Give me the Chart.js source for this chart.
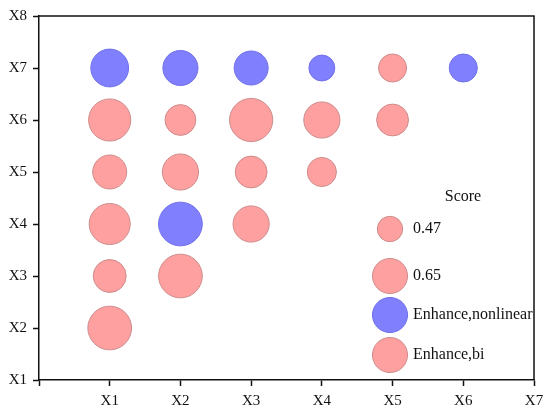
<!DOCTYPE html>
<html>
<head>
<meta charset="utf-8">
<script src="https://cdn.jsdelivr.net/npm/chart.js@4.4.0/dist/chart.umd.min.js"></script>
<style>
  html, body { margin: 0; padding: 0; background: #fff; }
  #wrap { width: 550px; height: 420px; }
</style>
</head>
<body>
<div id="wrap"><canvas id="bubbleChart"></canvas></div>
<script>
// tick labels
const xTickLabels = ["", "X1", "X2", "X3", "X4", "X5", "X6", "X7"];
const yTickLabels = ["", "X1", "X2", "X3", "X4", "X5", "X6", "X7", "X8"];

// Enhance,bi  (x index, y index, score)
const biX     = [1, 2, 3, 4, 5,   1, 2, 3, 4,   1, 3,   1, 2,   1,   5];
const biY     = [6, 6, 6, 6, 6,   5, 5, 5, 5,   4, 4,   3, 3,   2,   7];
const biScore = [0.78, 0.57, 0.80, 0.67, 0.59,  0.63, 0.67, 0.59, 0.54,  0.76, 0.67,  0.61, 0.81,  0.81,  0.52];

// Enhance,nonlinear
const nlX     = [1, 2, 3, 4, 6, 2];
const nlY     = [7, 7, 7, 7, 7, 4];
const nlScore = [0.70, 0.65, 0.63, 0.48, 0.52, 0.81];

// score legend entries
const legendScores = [0.47, 0.65];

const pink = "rgba(255, 160, 160, 1)";
const pinkEdge = "rgba(205, 140, 140, 1)";
const blue = "rgba(128, 128, 255, 1)";
const blueEdge = "rgba(112, 112, 232, 1)";
const serif = "'Liberation Serif', 'DejaVu Serif', serif";

function radiusOf(score) {
  return score * 27;
}

function toPoints(xs, ys, scores) {
  return xs.map(function (x, i) {
    return { x: x, y: ys[i], r: radiusOf(scores[i]), score: scores[i] };
  });
}

// box on top/right plus the score legend
const framePlugin = {
  id: "frame",
  afterDraw: function (chart) {
    const ctx = chart.ctx;
    const a = chart.chartArea;
    ctx.save();
    ctx.strokeStyle = "#111";
    ctx.lineWidth = 1.5;
    ctx.beginPath();
    ctx.moveTo(a.left, a.top);
    ctx.lineTo(a.right, a.top);
    ctx.lineTo(a.right, a.bottom);
    ctx.stroke();

    ctx.fillStyle = "#111";
    ctx.font = "16px " + serif;
    ctx.textAlign = "center";
    ctx.textBaseline = "middle";
    ctx.fillText("Score", a.right - 71, a.bottom - 183);

    const cx = a.right - 144;
    const items = [
      { r: radiusOf(legendScores[0]), fill: pink, edge: pinkEdge, text: String(legendScores[0]), y: a.bottom - 151 },
      { r: radiusOf(legendScores[1]), fill: pink, edge: pinkEdge, text: String(legendScores[1]), y: a.bottom - 104 },
      { r: radiusOf(legendScores[1]), fill: blue, edge: blueEdge, text: "Enhance,nonlinear", y: a.bottom - 65 },
      { r: radiusOf(legendScores[1]), fill: pink, edge: pinkEdge, text: "Enhance,bi", y: a.bottom - 25 },
    ];
    ctx.textAlign = "left";
    items.forEach(function (it) {
      ctx.beginPath();
      ctx.arc(cx, it.y, it.r, 0, Math.PI * 2);
      ctx.fillStyle = it.fill;
      ctx.fill();
      ctx.lineWidth = 1;
      ctx.strokeStyle = it.edge;
      ctx.stroke();
      ctx.fillStyle = "#111";
      ctx.fillText(it.text, a.right - 121, it.y);
    });
    ctx.restore();
  },
};

const ctx = document.getElementById("bubbleChart").getContext("2d");

new Chart(ctx, {
  type: "bubble",
  data: {
    datasets: [
      {
        label: "Enhance,bi",
        data: toPoints(biX, biY, biScore),
        backgroundColor: pink,
        borderColor: pinkEdge,
        borderWidth: 1,
      },
      {
        label: "Enhance,nonlinear",
        data: toPoints(nlX, nlY, nlScore),
        backgroundColor: blue,
        borderColor: blueEdge,
        borderWidth: 1,
      },
    ],
  },
  options: {
    responsive: true,
    maintainAspectRatio: false,
    animation: false,
    layout: {
      autoPadding: false,
      padding: { top: 16, right: 16, left: 0, bottom: 0 },
    },
    plugins: {
      legend: { display: false },
      tooltip: { enabled: false },
    },
    scales: {
      x: {
        type: "linear",
        min: 0,
        max: 7,
        afterFit: function (scale) {
          scale.height = 40;
          scale.paddingLeft = 0;
          scale.paddingRight = 0;
        },
        ticks: {
          stepSize: 1,
          padding: 6,
          color: "#111",
          font: { family: serif, size: 15 },
          callback: function (v) { return xTickLabels[v]; },
        },
        grid: {
          drawOnChartArea: false,
          drawTicks: true,
          tickLength: 6,
          tickWidth: 1.5,
          color: "#111",
        },
        border: { display: true, color: "#111", width: 1.5 },
      },
      y: {
        type: "linear",
        min: 1,
        max: 8,
        afterFit: function (scale) {
          scale.width = 39;
          scale.paddingTop = 0;
          scale.paddingBottom = 0;
        },
        ticks: {
          stepSize: 1,
          padding: 6,
          color: "#111",
          font: { family: serif, size: 15 },
          callback: function (v) { return yTickLabels[v]; },
        },
        grid: {
          drawOnChartArea: false,
          drawTicks: true,
          tickLength: 6,
          tickWidth: 1.5,
          color: "#111",
        },
        border: { display: true, color: "#111", width: 1.5 },
      },
    },
  },
  plugins: [framePlugin],
});
</script>
</body>
</html>
